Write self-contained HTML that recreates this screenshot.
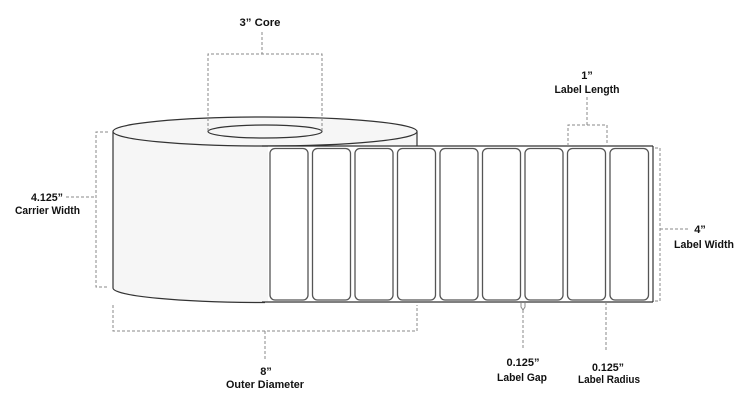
<!DOCTYPE html>
<html>
<head>
<meta charset="utf-8">
<style>
  html,body{margin:0;padding:0;background:#fff;}
  svg{display:block;}
  text{font-family:"Liberation Sans",Arial,sans-serif;font-weight:bold;font-size:11px;fill:#111;}
</style>
</head>
<body>
<svg width="749" height="408" viewBox="0 0 749 408" xmlns="http://www.w3.org/2000/svg">
  <!-- Roll body -->
  <path d="M113,131.5 L113,288 A152,14.5 0 0 0 417,288 L417,131.5 Z" fill="#f6f6f6" stroke="none"/>
  <path d="M113,131.5 L113,288 A152,14.5 0 0 0 265,302.5" fill="none" stroke="#333" stroke-width="1.2"/>
  <line x1="417" y1="131.5" x2="417" y2="146" stroke="#333" stroke-width="1.2"/>
  <!-- top ellipse -->
  <ellipse cx="265" cy="131.5" rx="152" ry="14.5" fill="#f6f6f6" stroke="#333" stroke-width="1.2"/>
  <!-- core -->
  <ellipse cx="265" cy="131.5" rx="57" ry="6.5" fill="#f6f6f6" stroke="#333" stroke-width="1.2"/>

  <!-- label strip -->
  <rect x="268" y="146" width="385" height="156" fill="#fff" stroke="none"/>
  <line x1="262" y1="146" x2="653" y2="146" stroke="#333" stroke-width="1.2"/>
  <line x1="262" y1="302" x2="653" y2="302" stroke="#333" stroke-width="1.2"/>
  <line x1="653" y1="146" x2="653" y2="302" stroke="#333" stroke-width="1.2"/>

  <g fill="#fff" stroke="#555" stroke-width="1.3">
    <rect x="270" y="148.5" width="38" height="151.5" rx="5"/>
    <rect x="312.5" y="148.5" width="38" height="151.5" rx="5"/>
    <rect x="355" y="148.5" width="38" height="151.5" rx="5"/>
    <rect x="397.5" y="148.5" width="38" height="151.5" rx="5"/>
    <rect x="440" y="148.5" width="38" height="151.5" rx="5"/>
    <rect x="482.5" y="148.5" width="38" height="151.5" rx="5"/>
    <rect x="525" y="148.5" width="38" height="151.5" rx="5"/>
    <rect x="567.5" y="148.5" width="38" height="151.5" rx="5"/>
    <rect x="610" y="148.5" width="38.5" height="151.5" rx="5"/>
  </g>

  <!-- dashed dimension lines -->
  <g fill="none" stroke="#888" stroke-width="1" stroke-dasharray="3,2">
    <!-- 3" core -->
    <line x1="262" y1="32" x2="262" y2="54"/>
    <polyline points="208,131 208,54 322,54 322,131"/>
    <!-- carrier width -->
    <polyline points="108,132 96,132 96,287 108,287"/>
    <line x1="66" y1="197" x2="96" y2="197"/>
    <!-- outer diameter -->
    <polyline points="113,305 113,331 417,331 417,305"/>
    <line x1="265" y1="331" x2="265" y2="360"/>
    <!-- label length -->
    <line x1="587" y1="97" x2="587" y2="125"/>
    <polyline points="568,146 568,125 607,125 607,146"/>
    <!-- label width -->
    <polyline points="655,148 660,148 660,301 655,301"/>
    <line x1="660" y1="229" x2="690" y2="229"/>
    <!-- gap -->
    <line x1="523" y1="310" x2="523" y2="350"/>
    <!-- radius -->
    <line x1="606" y1="302" x2="606" y2="352"/>
  </g>
  <g fill="none" stroke="#888" stroke-width="1">
    <polyline points="521,303 521,307 523,310 525,307 525,303"/>
  </g>

  <!-- labels -->
  <text x="260" y="26" text-anchor="middle" textLength="41" lengthAdjust="spacingAndGlyphs">3” Core</text>

  <text x="63" y="201" text-anchor="end" textLength="32" lengthAdjust="spacingAndGlyphs">4.125”</text>
  <text x="47.5" y="214" text-anchor="middle" textLength="65" lengthAdjust="spacingAndGlyphs">Carrier Width</text>

  <text x="587" y="79" text-anchor="middle">1”</text>
  <text x="587" y="93" text-anchor="middle" textLength="65" lengthAdjust="spacingAndGlyphs">Label Length</text>

  <text x="700" y="233" text-anchor="middle">4”</text>
  <text x="704" y="248" text-anchor="middle" textLength="60" lengthAdjust="spacingAndGlyphs">Label Width</text>

  <text x="266" y="375" text-anchor="middle">8”</text>
  <text x="265" y="388" text-anchor="middle" textLength="78" lengthAdjust="spacingAndGlyphs">Outer Diameter</text>

  <text x="523" y="366" text-anchor="middle" textLength="33" lengthAdjust="spacingAndGlyphs">0.125”</text>
  <text x="522" y="381" text-anchor="middle" textLength="50" lengthAdjust="spacingAndGlyphs">Label Gap</text>

  <text x="608" y="371" text-anchor="middle" textLength="32" lengthAdjust="spacingAndGlyphs">0.125”</text>
  <text x="609" y="383" text-anchor="middle" textLength="62" lengthAdjust="spacingAndGlyphs">Label Radius</text>
</svg>
</body>
</html>
